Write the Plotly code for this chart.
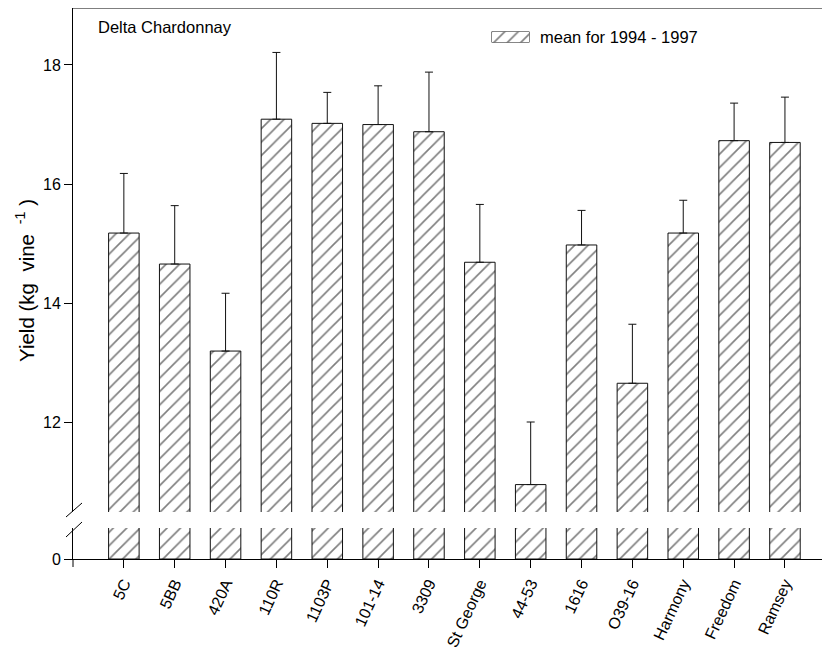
import plotly.graph_objects as go

# ---- data ----
rootstocks = ["5C", "5BB", "420A", "110R", "1103P", "101-14", "3309", "St George",
              "44-53", "1616", "O39-16", "Harmony", "Freedom", "Ramsey"]
mean_yield = [15.18, 14.66, 13.20, 17.09, 17.02, 17.00, 16.88, 14.69,
              10.96, 14.98, 12.66, 15.18, 16.73, 16.70]
se_yield = [1.00, 0.98, 0.97, 1.12, 0.52, 0.65, 1.00, 0.97,
            1.05, 0.58, 0.99, 0.55, 0.63, 0.76]
upper_ticks = [12, 14, 16, 18]
lower_ticks = [0]
title_text = "Delta Chardonnay"
legend_text = "mean for 1994 - 1997"

# ---- geometry (reference pixels; page body has an 8px margin) ----
OFF = 8
W, H = 830 - OFF, 654 - OFF
X_LEFT, X_RIGHT = 73, 830
Y_TOP, Y_BOT = 8, 559
L, R = X_LEFT - OFF, 0
T, B = Y_TOP - OFF, (654 - Y_BOT)
PW, PH = X_RIGHT - X_LEFT, Y_BOT - Y_TOP
def px_x(p):
    return (p - X_LEFT) / PW
def px_y(p):
    return (Y_BOT - p) / PH

UNIT = 59.65
FONT = "Liberation Sans, Arial, sans-serif"
idx = list(range(len(rootstocks)))

pattern = dict(shape="/", size=9.5, solidity=0.17, fgcolor="#000000", bgcolor="white")
bar_line = dict(color="#111", width=1)

fig = go.Figure()
fig.add_trace(go.Bar(
    x=idx, y=mean_yield, xaxis="x", yaxis="y2", width=0.6,
    marker=dict(color="white", line=bar_line, pattern=pattern),
    error_y=dict(type="data", symmetric=False, array=se_yield,
                 arrayminus=[0] * len(se_yield), color="#111", thickness=1, width=4),
    showlegend=False, name=legend_text))
fig.add_trace(go.Bar(
    x=idx, y=mean_yield, xaxis="x", yaxis="y", width=0.6,
    marker=dict(color="white", line=bar_line, pattern=pattern),
    showlegend=False, hoverinfo="skip"))
fig.add_trace(go.Bar(
    x=[1], y=[0], orientation="h", xaxis="x3", yaxis="y3", width=1,
    marker=dict(color="white", line=dict(color="#111", width=1), pattern=pattern),
    showlegend=False, hoverinfo="skip"))

axis_font = dict(family=FONT, size=16, color="black")
upper_top = 18 + (65 - Y_TOP) / UNIT
fig.update_layout(
    width=W, height=H,
    margin=dict(l=L, r=R, t=T, b=B, pad=0),
    paper_bgcolor="white", plot_bgcolor="white",
    font=dict(family=FONT, color="black"),
    barmode="overlay",
    xaxis=dict(domain=[0, 1], anchor="y", range=[-1, 13 + (X_RIGHT - 785) / 50.8],
               tickmode="array", tickvals=idx, ticktext=rootstocks,
               tickangle=-65, ticks="outside", ticklen=8, tickcolor="black",
               showline=True, linecolor="black", linewidth=1,
               showgrid=False, zeroline=False, tickfont=axis_font),
    yaxis=dict(domain=[0, px_y(528)], anchor="x", range=[0, 31 / UNIT],
               tickmode="array", tickvals=lower_ticks, ticks="outside", ticklen=8,
               tickcolor="black", showline=True, linecolor="black", linewidth=1,
               showgrid=False, zeroline=False, tickfont=axis_font),
    yaxis2=dict(domain=[px_y(512), 1], anchor="x", range=[10.5, upper_top],
                tickmode="array", tickvals=upper_ticks, ticks="outside", ticklen=8,
                tickcolor="black", showline=True, linecolor="black", linewidth=1,
                showgrid=False, zeroline=False, tickfont=axis_font),
    xaxis3=dict(domain=[px_x(491.5), px_x(529.5)], anchor="y3", range=[0, 1],
                visible=False, fixedrange=True),
    yaxis3=dict(domain=[px_y(42.5), px_y(31.5)], anchor="x3", range=[-0.5, 0.5],
                visible=False, fixedrange=True),
)

shapes = [
    dict(type="line", xref="paper", yref="paper", x0=0, x1=1, y0=1, y1=1,
         line=dict(color="black", width=1)),
    dict(type="line", xref="paper", yref="paper", x0=0, x1=0, y0=0, y1=px_y(567),
         line=dict(color="black", width=1)),
]
for v in upper_ticks:
    shapes.append(dict(type="line", xref="paper", yref="y2",
                       x0=1 - 4.5 / PW, x1=1, y0=v, y1=v,
                       line=dict(color="black", width=1)))
for (xa, xb) in [(66, 82), (822, 838)]:
    for (ya, yb) in [(517, 503), (537, 522)]:
        shapes.append(dict(type="line", xref="paper", yref="paper",
                           x0=px_x(xa), x1=px_x(xb), y0=px_y(ya), y1=px_y(yb),
                           line=dict(color="black", width=1)))
fig.update_layout(shapes=shapes)

fig.update_layout(annotations=[
    dict(text=title_text, xref="paper", yref="paper", x=px_x(96), y=px_y(27),
         xanchor="left", yanchor="middle", showarrow=False,
         font=dict(family=FONT, size=16.5, color="black")),
    dict(text=legend_text, xref="paper", yref="paper", x=px_x(538), y=px_y(37),
         xanchor="left", yanchor="middle", showarrow=False,
         font=dict(family=FONT, size=16.5, color="black")),
    dict(text="Yield (kg  vine <sup> -1</sup> )", xref="paper", yref="paper",
         x=px_x(25), y=px_y(281), xanchor="center", yanchor="middle",
         textangle=-90, showarrow=False,
         font=dict(family=FONT, size=20.5, color="black")),
])

fig.write_html("out.html")
